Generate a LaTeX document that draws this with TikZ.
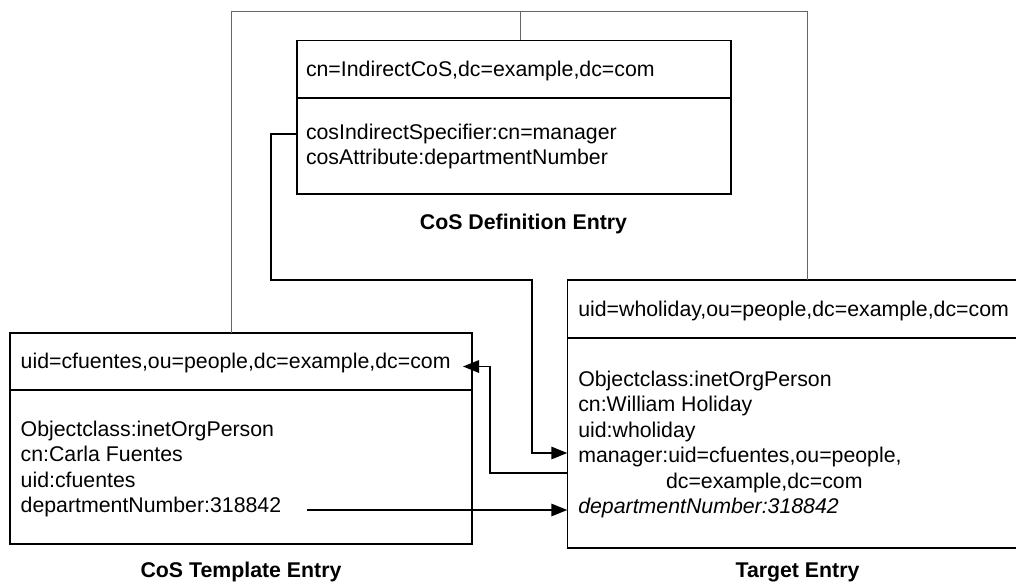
\documentclass[tikz,border=0pt]{standalone}
\usepackage{fontspec}
\setmainfont{Liberation Sans}
\usetikzlibrary{arrows.meta}
\newcommand\entryfont{\fontsize{21.3}{25.5}\selectfont}
\tikzset{
  entry/.style={draw=black, line width=1.6pt, rectangle, outer sep=0pt, inner sep=0pt, anchor=north west},
  rule/.style={line width=1.6pt},
  txt/.style={inner sep=0pt, outer sep=0pt, anchor=base west, font=\entryfont},
  caption/.style={inner sep=0pt, outer sep=0pt, anchor=base, font=\entryfont\bfseries},
  conn/.style={line width=1.5pt, line join=miter},
  link/.style={conn, -{Triangle[length=16pt,width=12.5pt]}},
  frame/.style={line width=1pt, draw=black!60},
}
\begin{document}
\begin{tikzpicture}[x=1pt,y=-1pt]
\useasboundingbox (0,0) rectangle (1016,583);
\clip (0,0) rectangle (1016,583);

% entry boxes
\node[entry, minimum width=434pt, minimum height=153.5pt] (def) at (297,40.5) {};
\node[entry, minimum width=461.7pt, minimum height=211.3pt] (tmpl) at (10,332.7) {};
\node[entry, minimum width=461pt, minimum height=268pt] (targ) at (567.3,280) {};

% dividers between DN and attributes
\draw[rule] (def.west |- 0,98) -- (def.east |- 0,98);
\draw[rule] (tmpl.west |- 0,390) -- (tmpl.east |- 0,390);
\draw[rule] (targ.west |- 0,337.7) -- (targ.east |- 0,337.7);

% CoS definition entry
\node[txt] (defdn)   at (306,77)    {cn=IndirectCoS,dc=example,dc=com};
\node[txt] (defspec) at (306,139.5) {cosIndirectSpecifier:cn=manager};
\node[txt] (defattr) at (306,164.5) {cosAttribute:departmentNumber};

% CoS template entry
\node[txt] (tdn)   at (20.7,368)   {uid=cfuentes,ou=people,dc=example,dc=com};
\node[txt] (toc)   at (20.7,436)   {Objectclass:inetOrgPerson};
\node[txt] (tcn)   at (20.7,461.5) {cn:Carla Fuentes};
\node[txt] (tuid)  at (20.7,487)   {uid:cfuentes};
\node[txt] (tdept) at (20.7,512.5) {departmentNumber:318842};

% target entry
\node[txt] (gdn)   at (578.3,316)   {uid=wholiday,ou=people,dc=example,dc=com};
\node[txt] (goc)   at (578.3,386)   {Objectclass:inetOrgPerson};
\node[txt] (gcn)   at (578.3,411.5) {cn:William Holiday};
\node[txt] (guid)  at (578.3,437)   {uid:wholiday};
\node[txt] (gmgr)  at (578.3,462.5) {manager:uid=cfuentes,ou=people,};
\node[txt] (gmgr2) at (666,488)     {dc=example,dc=com};
\node[txt] (gdept) at (578.3,513.5) {\itshape departmentNumber:318842};

% captions
\node[caption] (defcap)  at (523.5,229) {CoS Definition Entry};
\node[caption] (tmplcap) at (241,577)   {CoS Template Entry};
\node[caption] (targcap) at (797.5,577.5) {Target Entry};

% enclosing frame of the CoS scheme
\coordinate (f1) at (231,12);
\coordinate (f2) at (807,12);
\coordinate (fs) at (520,12);
\draw[frame] (tmpl.north -| f1) -- (f1) -- (f2) -- (targ.north -| f2);
\draw[frame] (fs) -- (def.north -| fs);

% indirect specifier -> manager attribute
\coordinate (d1) at (271,134);
\coordinate (d2) at (271,280);
\coordinate (d3) at (532,280);
\coordinate (d4) at (532,453);
\draw[link] (def.west |- d1) -- (d1) -- (d2) -- (d3) -- (d4) -- (targ.west |- d4);

% manager -> template DN
\coordinate (m1) at (490,473);
\coordinate (m2) at (490,366.5);
\coordinate (tdnend) at (463,366.5);
\draw[link] (targ.west |- m1) -- (m1) -- (m2) -- (tdnend);

% department number copied to the target
\coordinate (deptsrc) at (307,510);
\draw[link] (deptsrc) -- (targ.west |- deptsrc);
\end{tikzpicture}
\end{document}
